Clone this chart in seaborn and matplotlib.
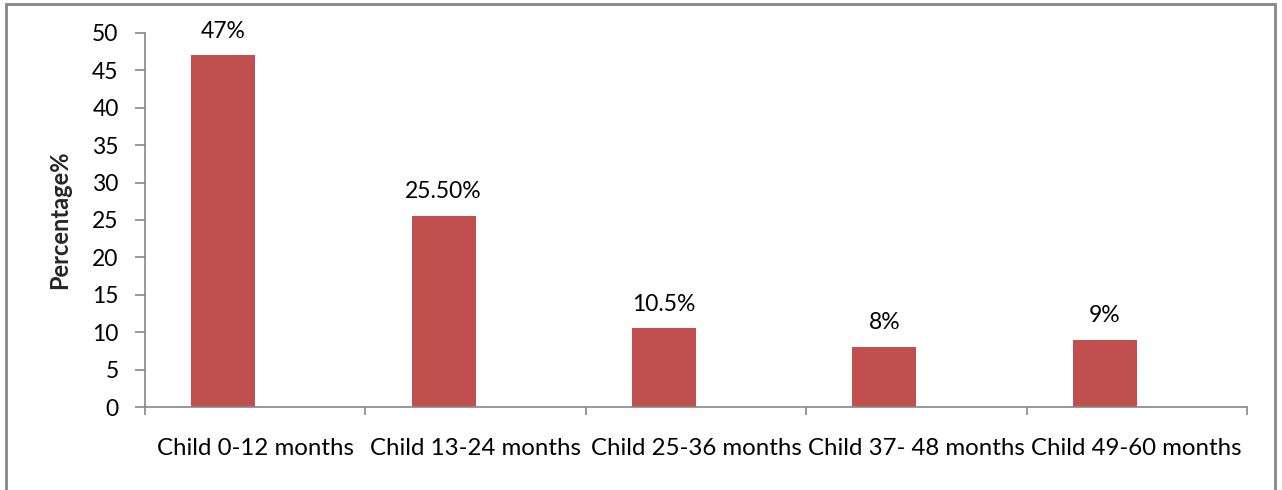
import matplotlib
matplotlib.use("Agg")
import matplotlib.pyplot as plt
from matplotlib.patches import Rectangle
import seaborn as sns
import pandas as pd

categories = ["Child 0-12 months", "Child 13-24 months", "Child 25-36 months",
              "Child 37- 48 months", "Child 49-60 months"]
values = [47, 25.5, 10.5, 8, 9]
value_labels = ["47%", "25.50%", "10.5%", "8%", "9%"]
y_ticks = [0, 5, 10, 15, 20, 25, 30, 35, 40, 45, 50]
# the chart holds a second, empty series slot beside each bar
series = ["Percentage", "(empty)"]

sns.set_theme(style="white")
plt.rcParams["font.family"] = ["Lato", "DejaVu Sans"]

df = pd.DataFrame({"category": categories, "value": values,
                   "series": [series[0]] * len(categories)})

W, H = 1282, 490
fig = plt.figure(figsize=(W / 100, H / 100), dpi=100)
ax = fig.add_axes([145 / W, 1 - 407 / H, (1247 - 145) / W, (407 - 33) / H])

sns.barplot(data=df, x="category", y="value", hue="series", hue_order=series,
            order=categories, palette=["#C0504D", "#4F81BD"], saturation=1,
            width=0.58, dodge=True, ax=ax, edgecolor="none", legend=False)

ax.set_xlim(-0.5, len(categories) - 0.5)
ax.set_ylim(0, 50)
ax.set_yticks(y_ticks)
ax.set_yticklabels([str(t) for t in y_ticks], fontsize=16.5, color="black")
ax.set_xticks(range(len(categories)))
ax.set_xticklabels(categories, fontsize=17.3, color="black")
ax.set_xticks([i - 0.5 for i in range(len(categories) + 1)], minor=True)
ax.tick_params(axis="x", which="major", length=0, pad=22)
ax.tick_params(axis="x", which="minor", length=6, width=1.2, color="#868686",
               direction="out", bottom=True)
ax.tick_params(axis="y", length=7, width=1.2, color="#868686", direction="out",
               left=True, pad=12)
ax.set_xlabel("")
ax.set_ylabel("Percentage%", fontsize=17, fontweight="bold", labelpad=15)

for side in ["top", "right"]:
    ax.spines[side].set_visible(False)
for side in ["left", "bottom"]:
    ax.spines[side].set_color("#868686")
    ax.spines[side].set_linewidth(1.2)

bars = ax.containers[0]
for bar, lab in zip(bars, value_labels):
    ax.annotate(lab, (bar.get_x() + bar.get_width() / 2, bar.get_height()),
                xytext=(0, 10), textcoords="offset points",
                ha="center", va="bottom", fontsize=16.5, color="black")

fig.patches.append(Rectangle((6 / W, -0.05), (1275 - 6) / W, 1.05 - 4 / H,
                             transform=fig.transFigure, fill=False,
                             edgecolor="#868686", linewidth=2))

fig.savefig("out.png", dpi=100, facecolor="white")
